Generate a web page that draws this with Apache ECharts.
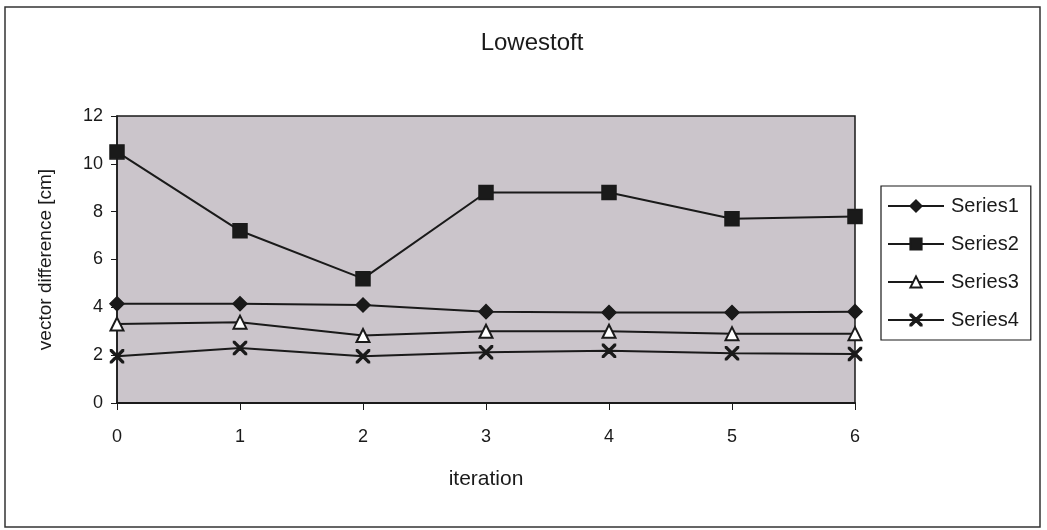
<!DOCTYPE html>
<html>
<head>
<meta charset="utf-8">
<script src="https://cdn.jsdelivr.net/npm/echarts@6/dist/echarts.min.js"></script>
<style>
  html, body { margin: 0; padding: 0; background: #fff; }
  #chart { width: 1047px; height: 530px; }
</style>
</head>
<body>
<div id="chart"></div>
<script>
// Iteration steps along the x axis
const iterations = ['0', '1', '2', '3', '4', '5', '6'];

// Vector difference per iteration [cm]
const series1 = [4.15, 4.15, 4.1, 3.82, 3.78, 3.78, 3.82];
const series2 = [10.5, 7.2, 5.2, 8.8, 8.8, 7.7, 7.8];
const series3 = [3.3, 3.38, 2.82, 3.0, 3.0, 2.9, 2.9];
const series4 = [1.95, 2.3, 1.95, 2.12, 2.18, 2.08, 2.05];

const seriesNames = ['Series1', 'Series2', 'Series3', 'Series4'];

const FONT = 'Liberation Sans, Arial, sans-serif';
const INK = '#1a1a1a';

// Cross marker drawn as a path
const crossPath = 'path://M0,0 L10,10 M10,0 L0,10 M0,0 L1,0 L10,9 L10,10 L9,10 L0,1 Z M9,0 L10,0 L10,1 L1,10 L0,10 L0,9 Z';

function line(name, data, symbol, size, fill) {
  return {
    name: name,
    type: 'line',
    data: data,
    symbol: symbol,
    symbolSize: size,
    showAllSymbol: true,
    lineStyle: { color: INK, width: 2 },
    itemStyle: { color: fill, borderColor: INK, borderWidth: symbol === 'triangle' ? 2 : 1.5 },
    emphasis: { disabled: true },
    z: 3
  };
}

const chart = echarts.init(document.getElementById('chart'), null, { renderer: 'canvas' });

chart.setOption({
  animation: false,
  backgroundColor: '#ffffff',
  title: {
    text: 'Lowestoft',
    left: 527,
    textAlign: 'center',
    top: 26,
    textStyle: { fontFamily: FONT, fontSize: 24, fontWeight: 'normal', color: INK }
  },
  graphic: [{
    type: 'rect',
    shape: { x: 5, y: 7, width: 1035, height: 520 },
    style: { fill: 'none', stroke: '#333', lineWidth: 1.5 },
    z: 0
  }],
  grid: {
    left: 117, right: 192, top: 116, bottom: 127,
    show: true,
    backgroundColor: '#cbc5cb',
    borderColor: INK,
    borderWidth: 1.5
  },
  legend: {
    orient: 'vertical',
    left: 881,
    top: 186,
    data: seriesNames,
    itemWidth: 56,
    itemHeight: 14,
    itemGap: 18,
    padding: [10, 12, 10, 6],
    borderColor: INK,
    borderWidth: 1.2,
    textStyle: { fontFamily: FONT, fontSize: 20, color: INK, padding: [0, 0, 0, 2] },
    selectedMode: false
  },
  xAxis: {
    type: 'category',
    data: iterations,
    boundaryGap: false,
    name: 'iteration',
    nameLocation: 'middle',
    nameGap: 66,
    nameTextStyle: { fontFamily: FONT, fontSize: 21, color: INK },
    axisLine: { lineStyle: { color: INK, width: 2 } },
    axisTick: { show: true, alignWithLabel: true, length: 7, lineStyle: { color: INK, width: 1 } },
    axisLabel: { fontFamily: FONT, fontSize: 18, color: INK, margin: 25 },
    splitLine: { show: false }
  },
  yAxis: {
    type: 'value',
    min: 0,
    max: 12,
    interval: 2,
    name: 'vector difference [cm]',
    nameLocation: 'middle',
    nameRotate: 90,
    nameGap: 62,
    nameTextStyle: { fontFamily: FONT, fontSize: 19, color: INK },
    axisLine: { show: true, lineStyle: { color: INK, width: 1.5 } },
    axisTick: { show: true, length: 6, lineStyle: { color: INK, width: 1 } },
    axisLabel: { fontFamily: FONT, fontSize: 18, color: INK, margin: 14 },
    splitLine: { show: false }
  },
  series: [
    line('Series1', series1, 'diamond', 14, INK),
    line('Series2', series2, 'rect', 14, INK),
    line('Series3', series3, 'triangle', 13, '#ffffff'),
    line('Series4', series4, crossPath, 13, INK)
  ]
});
</script>
</body>
</html>
